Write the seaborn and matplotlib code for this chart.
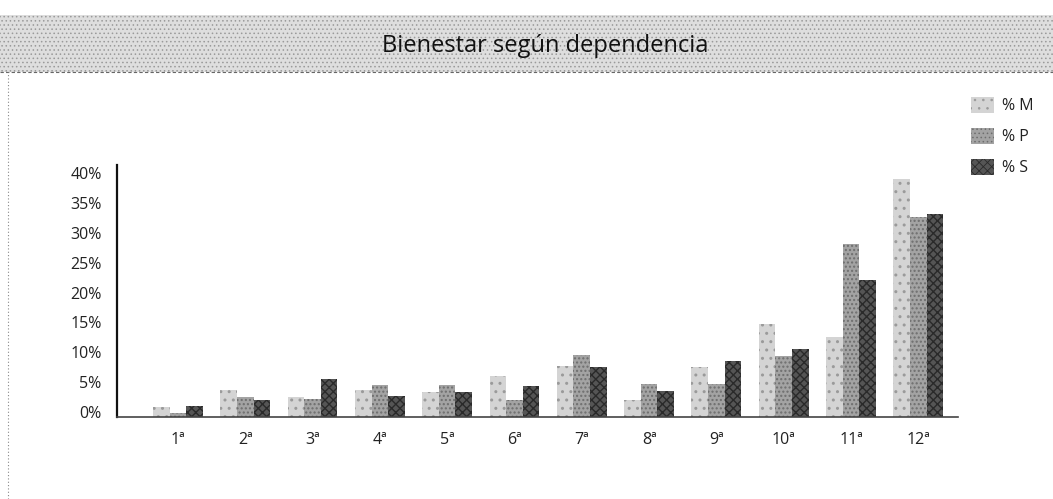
import matplotlib
matplotlib.use("Agg")
import matplotlib.pyplot as plt
import matplotlib.transforms as mtransforms
from matplotlib.patches import Rectangle
from matplotlib.lines import Line2D
import seaborn as sns
import pandas as pd

# ---- data ----
categories = ["1ª", "2ª", "3ª", "4ª", "5ª", "6ª", "7ª", "8ª", "9ª", "10ª", "11ª", "12ª"]
series_names = ["% M", "% P", "% S"]
pct_m = [1.7, 4.6, 3.3, 4.5, 4.2, 6.8, 8.5, 2.9, 8.3, 15.5, 13.4, 39.8]
pct_p = [0.6, 3.3, 3.0, 5.3, 5.3, 2.8, 10.3, 5.6, 5.6, 10.2, 29.0, 33.5]
pct_s = [1.8, 2.8, 6.4, 3.5, 4.2, 5.2, 8.4, 4.4, 9.4, 11.4, 23.0, 34.0]
y_ticks = [0, 5, 10, 15, 20, 25, 30, 35, 40]
title = "Bienestar según dependencia"

df = pd.DataFrame({
    "cat": categories * 3,
    "serie": [series_names[0]] * 12 + [series_names[1]] * 12 + [series_names[2]] * 12,
    "val": pct_m + pct_p + pct_s,
})

sns.set_theme(style="white")
plt.rcParams["font.family"] = ["Open Sans", "DejaVu Sans"]

W, H = 1053, 499
fig = plt.figure(figsize=(W / 100, H / 100), dpi=100)
fig.patch.set_facecolor("white")

# axes placed in pixel terms
ax_left, ax_right, ax_top, ax_bottom = 117, 958, 165, 417
ax = fig.add_axes([ax_left / W, 1 - ax_bottom / H,
                   (ax_right - ax_left) / W, (ax_bottom - ax_top) / H])

palette = {"% M": "#d4d4d4", "% P": "#a3a3a3", "% S": "#555555"}
sns.barplot(data=df, x="cat", y="val", hue="serie", order=categories,
            hue_order=series_names, palette=palette, width=0.74,
            saturation=1, ax=ax, legend=True, linewidth=0)

hatches = {"% M": "..", "% P": "....", "% S": "xxxx"}
hatch_cols = {"% M": "#9a9a9a", "% P": "#6e6e6e", "% S": "#2a2a2a"}
for cont, name in zip(ax.containers, series_names):
    for bar in cont:
        bar.set_hatch(hatches[name])
        bar.set_edgecolor(hatch_cols[name])
        bar.set_linewidth(0)
plt.rcParams["hatch.linewidth"] = 0.6

ax.set_xlim(-0.906, 11.59)
ax.set_ylim(0, 42.2)
ax.set_yticks(y_ticks)
ax.set_yticklabels([f"{v}%" for v in y_ticks])
ax.set_xlabel("")
ax.set_ylabel("")
ax.tick_params(axis="both", length=0, labelsize=11.5, colors="#222222")
ax.tick_params(axis="y", pad=11)
ax.tick_params(axis="x", pad=11)

for side in ["top", "right"]:
    ax.spines[side].set_visible(False)
ax.spines["left"].set_color("#111111")
ax.spines["left"].set_linewidth(1.6)
ax.spines["bottom"].set_color("#444444")
ax.spines["bottom"].set_linewidth(1.2)

# y labels sit slightly above their levels in the reference
off = mtransforms.ScaledTranslation(0, 5 / 100, fig.dpi_scale_trans)
for lbl in ax.get_yticklabels():
    lbl.set_transform(lbl.get_transform() + off)

# legend
handles, labels = ax.get_legend_handles_labels()
ax.get_legend().remove()
for h, name in zip(handles, series_names):
    h.set_hatch(hatches[name])
    h.set_edgecolor(hatch_cols[name])
    h.set_linewidth(0)
fig.legend(handles, labels, loc="upper left",
           bbox_to_anchor=(971 / W, 1 - 97 / H), frameon=False,
           fontsize=11.5, handlelength=1.45, handleheight=1.15,
           handletextpad=0.5, labelspacing=0.85, borderpad=0,
           borderaxespad=0, labelcolor="#222222")

# title band
band_top, band_bot = 15, 72
fig.patches.append(Rectangle((0, 1 - band_bot / H), 1, (band_bot - band_top) / H,
                             transform=fig.transFigure, facecolor="#dedede",
                             edgecolor="#9a9a9a", hatch="....", linewidth=0,
                             zorder=0))
fig.lines.append(Line2D([0, 1], [1 - band_bot / H] * 2, transform=fig.transFigure,
                        color="#666666", linewidth=0.8, linestyle=(0, (3, 2))))
fig.text(545 / W, 1 - 46 / H, title, ha="center", va="center",
         fontsize=17, color="#111111")

# left dotted border
fig.lines.append(Line2D([8 / W, 8 / W], [0, 1 - band_bot / H], transform=fig.transFigure,
                        color="#888888", linewidth=0.8, linestyle=(0, (1, 2))))

fig.savefig("out.png", dpi=100)
